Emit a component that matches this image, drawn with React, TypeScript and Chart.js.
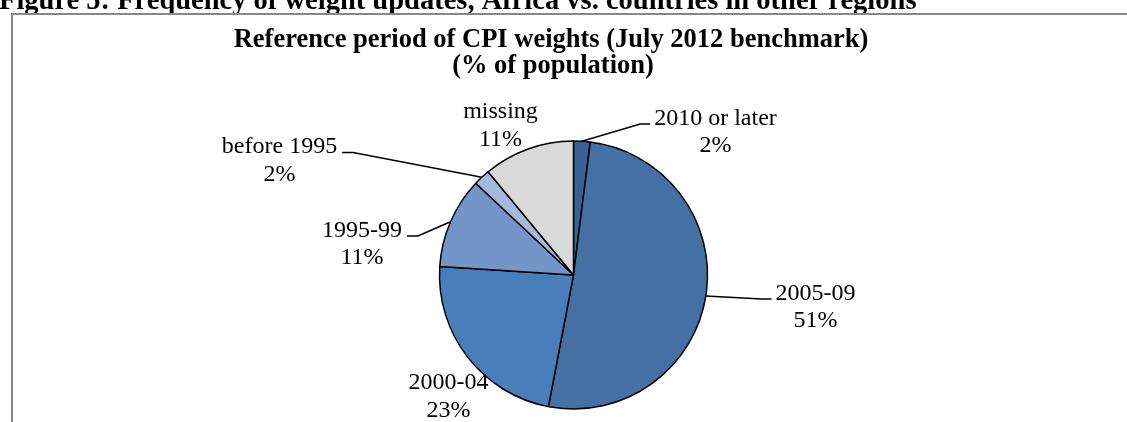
import React, { useEffect, useRef } from "react";
import { Chart, registerables } from "chart.js";

Chart.register(...registerables);

// ---- data ----
const categories = ["2010 or later", "2005-09", "2000-04", "1995-99", "before 1995", "missing"];
const shares = [2, 51, 23, 11, 2, 11];
const sliceColors = ["#3B6193", "#4470A3", "#4A7EBB", "#7395C8", "#A6B9DC", "#D9D9D9"];
const chartTitleLines = ["Reference period of CPI weights (July 2012 benchmark)", "(% of population)"];
const figureCaption = "Figure 5: Frequency of weight updates, Africa vs. countries in other regions";

// ---- label layout (offsets of label text from pie centre, px) ----
const labelLayout = [
  { dx: 142, dy: -150.5, leader: "left" },
  { dx: 242, dy: 24.5, leader: "left" },
  { dx: -125, dy: 114, leader: "none" },
  { dx: -211.5, dy: -38.5, leader: "right" },
  { dx: -294, dy: -122, leader: "right" },
  { dx: -73, dy: -157, leader: "none" },
];

const SERIF = '"Liberation Serif", "Times New Roman", serif';
const LABEL_FONT = `24px ${SERIF}`;
const LINE_GAP = 27.5;

const decorPlugin = {
  id: "decor",
  afterDraw(chart: any) {
    const ctx = chart.ctx as CanvasRenderingContext2D;
    ctx.save();
    // figure caption (cropped at top)
    ctx.fillStyle = "#000";
    ctx.font = `bold 28.5px ${SERIF}`;
    ctx.textAlign = "left";
    ctx.textBaseline = "alphabetic";
    ctx.fillText(figureCaption, -1, 9);

    // chart frame
    ctx.strokeStyle = "#878787";
    ctx.lineWidth = 2;
    ctx.beginPath();
    ctx.moveTo(12, 422);
    ctx.lineTo(12, 14);
    ctx.lineTo(1127, 14);
    ctx.stroke();

    // chart title
    ctx.font = `bold 26.5px ${SERIF}`;
    ctx.textAlign = "center";
    ctx.fillText(chartTitleLines[0], 551, 47);
    ctx.fillText(chartTitleLines[1], 553, 73);

    // data labels with leader lines
    const meta = chart.getDatasetMeta(0);
    ctx.font = LABEL_FONT;
    meta.data.forEach((arc: any, i: number) => {
      const lay = labelLayout[i];
      const cx = arc.x + lay.dx;
      const by = arc.y + lay.dy;
      const line1 = categories[i];
      const line2 = `${shares[i]}%`;
      ctx.fillStyle = "#000";
      ctx.textAlign = "center";
      ctx.fillText(line1, cx, by);
      ctx.fillText(line2, cx, by + LINE_GAP);
      if (lay.leader !== "none") {
        const w = ctx.measureText(line1).width;
        const mid = (arc.startAngle + arc.endAngle) / 2;
        const px = arc.x + Math.cos(mid) * arc.outerRadius;
        const py = arc.y + Math.sin(mid) * arc.outerRadius;
        const ly = by - 0.5;
        let endX: number, elbowX: number;
        if (lay.leader === "left") {
          endX = cx - w / 2 - 4;
          elbowX = endX - 10;
        } else {
          endX = cx + w / 2 + 5;
          elbowX = endX + 11;
        }
        ctx.strokeStyle = "#000";
        ctx.lineWidth = 1.6;
        ctx.beginPath();
        ctx.moveTo(px, py);
        ctx.lineTo(elbowX, ly);
        ctx.lineTo(endX, ly);
        ctx.stroke();
      }
    });
    ctx.restore();
  },
};

export default function App() {
  const ref = useRef<HTMLCanvasElement | null>(null);
  useEffect(() => {
    if (!ref.current) return;
    const chart = new Chart(ref.current, {
      type: "pie",
      data: {
        labels: categories,
        datasets: [
          {
            data: shares,
            backgroundColor: sliceColors,
            borderColor: "#000",
            borderWidth: 1.5,
          },
        ],
      },
      options: {
        responsive: false,
        maintainAspectRatio: false,
        animation: false,
        events: [],
        radius: 134,
        layout: { padding: { left: 20, right: 0, top: 128, bottom: 0 } },
        plugins: {
          legend: { display: false },
          title: { display: false },
          tooltip: { enabled: false },
        },
      } as any,
      plugins: [decorPlugin],
    });
    return () => chart.destroy();
  }, []);
  return (
    <div style={{ position: "absolute", left: 0, top: 0, width: 1127, height: 422, background: "#fff", overflow: "hidden" }}>
      <canvas ref={ref} width={1127} height={422} style={{ display: "block" }} />
    </div>
  );
}
